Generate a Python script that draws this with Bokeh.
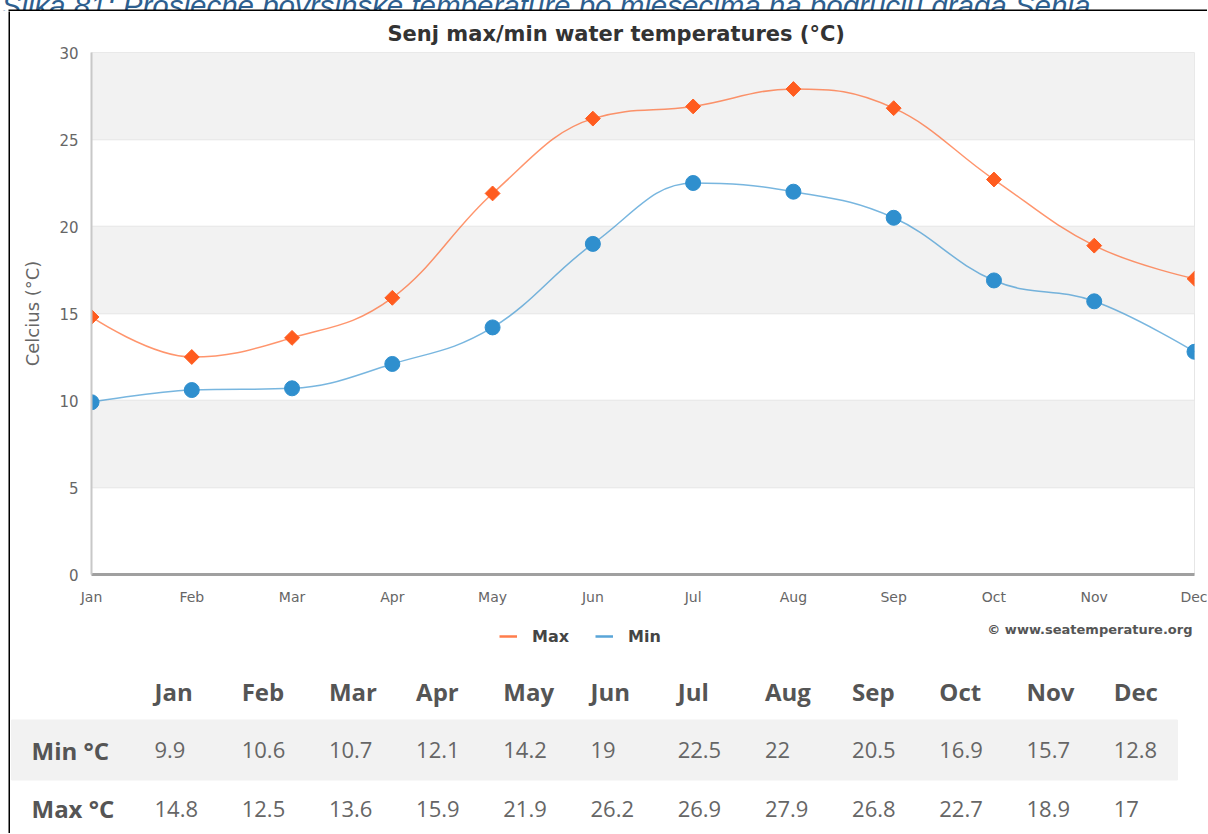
from bokeh.plotting import figure
from bokeh.models import (Range1d, FixedTicker, BoxAnnotation, Legend, LegendItem,
                          ColumnDataSource)
from bokeh.layouts import column, row
from bokeh.embed import file_html
from bokeh.resources import INLINE
from bokeh.core.properties import value

# ---------------- data ----------------
months = ["Jan", "Feb", "Mar", "Apr", "May", "Jun", "Jul", "Aug", "Sep", "Oct", "Nov", "Dec"]
min_vals = [9.9, 10.6, 10.7, 12.1, 14.2, 19.0, 22.5, 22.0, 20.5, 16.9, 15.7, 12.8]
max_vals = [14.8, 12.5, 13.6, 15.9, 21.9, 26.2, 26.9, 27.9, 26.8, 22.7, 18.9, 17.0]
y_ticks = [0, 5, 10, 15, 20, 25, 30]
row_labels = ["Min °C", "Max °C"]
series_names = ["Max", "Min"]

chart_title = "Senj max/min water temperatures (°C)"
y_label = "Celcius (°C)"
credits = "© www.seatemperature.org"
caption = "Slika 81: Prosječne površinske temperature po mjesecima na području grada Senja"

ORANGE = "#ff5c1f"
BLUE = "#2f8fce"
FONT = "DejaVu Sans"
TFONT = "Open Sans"
NAN = float("nan")


def spline_segments(xs, ys, smoothing=1.5):
    """Highcharts-like spline: bezier control points for each segment."""
    n = len(xs)
    left = [None] * n
    right = [None] * n
    d = smoothing + 1
    for i in range(1, n - 1):
        lx, ly = xs[i - 1], ys[i - 1]
        px, py = xs[i], ys[i]
        nx, ny = xs[i + 1], ys[i + 1]
        lcx = (smoothing * px + lx) / d
        lcy = (smoothing * py + ly) / d
        rcx = (smoothing * px + nx) / d
        rcy = (smoothing * py + ny) / d
        if rcx != lcx:
            corr = ((rcy - lcy) * (rcx - px)) / (rcx - lcx) + py - rcy
            lcy += corr
            rcy += corr
        if lcy > ly and lcy > py:
            lcy = max(ly, py); rcy = 2 * py - lcy
        elif lcy < ly and lcy < py:
            lcy = min(ly, py); rcy = 2 * py - lcy
        if rcy > ny and rcy > py:
            rcy = max(ny, py); lcy = 2 * py - rcy
        elif rcy < ny and rcy < py:
            rcy = min(ny, py); lcy = 2 * py - rcy
        left[i] = (lcx, lcy)
        right[i] = (rcx, rcy)
    seg = dict(x0=[], y0=[], x1=[], y1=[], cx0=[], cy0=[], cx1=[], cy1=[])
    for i in range(n - 1):
        c0 = right[i] or (xs[i], ys[i])
        c1 = left[i + 1] or (xs[i + 1], ys[i + 1])
        seg["x0"].append(xs[i]); seg["y0"].append(ys[i])
        seg["x1"].append(xs[i + 1]); seg["y1"].append(ys[i + 1])
        seg["cx0"].append(c0[0]); seg["cy0"].append(c0[1])
        seg["cx1"].append(c1[0]); seg["cy1"].append(c1[1])
    return ColumnDataSource(seg)


def bare(fig):
    fig.axis.visible = False
    fig.grid.visible = False
    fig.outline_line_color = None
    fig.frame_align = False
    return fig


idx = list(range(len(months)))

# ---------------- caption (clipped at top, as in the reference) + top frame line ----------------
cap = bare(figure(width=1208, height=12, x_range=Range1d(0, 1208), y_range=Range1d(12, 0),
                  min_border=0, toolbar_location=None, output_backend="svg"))
cap.text(x=[2], y=[6], text=[caption], text_font=value("Liberation Sans"),
         text_font_style="italic", text_font_size="29.5px", text_color="#2e5f8f",
         text_baseline="alphabetic", text_align="left")
cap.add_layout(BoxAnnotation(left=9, right=1208, bottom=12, top=10,
                             fill_color="#000000", fill_alpha=1, line_color=None))

# ---------------- black frame line (left) ----------------
strip = bare(figure(width=11, height=822, min_border_left=9, min_border_right=0,
                    min_border_top=0, min_border_bottom=0, toolbar_location=None,
                    output_backend="svg", background_fill_color="#000000",
                    border_fill_color="#ffffff"))

# ---------------- chart ----------------
p = figure(width=1197, height=603, x_range=Range1d(0, 11), y_range=Range1d(0, 30),
           toolbar_location=None, output_backend="svg",
           min_border_left=81, min_border_right=13, min_border_top=41, min_border_bottom=40)
p.frame_align = False
p.title.text = chart_title
p.title.align = "left"
p.title.offset = 296
p.title.standoff = 14
p.title.text_font = FONT
p.title.text_font_size = "21px"
p.title.text_font_style = "bold"
p.title.text_color = "#333333"
p.outline_line_color = "#e6e6e6"

for lo in y_ticks[1::2]:
    p.add_layout(BoxAnnotation(bottom=lo, top=lo + 5, fill_color="#f2f2f2",
                               fill_alpha=1, line_color=None, level="underlay"))

p.xgrid.visible = False
p.ygrid.grid_line_color = "#e3e3e3"
p.ygrid.grid_line_width = 1.5

p.yaxis.ticker = FixedTicker(ticks=y_ticks)
p.xaxis.ticker = FixedTicker(ticks=idx)
p.xaxis.major_label_overrides = {i: m for i, m in zip(idx, months)}
for ax in (p.xaxis[0], p.yaxis[0]):
    ax.major_tick_line_color = None
    ax.minor_tick_line_color = None
    ax.major_tick_out = 0
    ax.major_tick_in = 0
    ax.minor_tick_out = 0
    ax.major_label_text_font = FONT
    ax.major_label_text_color = "#666666"
p.xaxis.major_label_text_font_size = "14px"
p.xaxis.major_label_standoff = 14
p.xaxis.axis_line_color = "#a0a0a0"
p.xaxis.axis_line_width = 3
p.yaxis.major_label_text_font_size = "15px"
p.yaxis.major_label_standoff = 13
p.yaxis.axis_line_color = "#c8c8c8"
p.yaxis.axis_line_width = 2
p.yaxis.axis_label = y_label
p.yaxis.axis_label_text_font = FONT
p.yaxis.axis_label_text_font_size = "18px"
p.yaxis.axis_label_text_font_style = "normal"
p.yaxis.axis_label_text_color = "#666666"
p.yaxis.axis_label_standoff = 13

max_src = spline_segments(idx, max_vals)
min_src = spline_segments(idx, min_vals)
p.bezier(x0="x0", y0="y0", x1="x1", y1="y1", cx0="cx0", cy0="cy0",
         cx1="cx1", cy1="cy1", source=max_src, line_color=ORANGE,
         line_width=1.5, line_alpha=0.65)
p.bezier(x0="x0", y0="y0", x1="x1", y1="y1", cx0="cx0", cy0="cy0",
         cx1="cx1", cy1="cy1", source=min_src, line_color=BLUE,
         line_width=1.5, line_alpha=0.65)
p.scatter(idx, max_vals, marker="square", angle=0.785398, size=10.5, color=ORANGE)
p.scatter(idx, min_vals, marker="circle", size=15, color=BLUE)

# ---------------- legend + credits + table ----------------
t = bare(figure(width=1197, height=219, x_range=Range1d(-1.6514, 12.076),
                y_range=Range1d(2.427, -1.316), min_border=0, toolbar_location=None,
                output_backend="svg"))

# legend keys (line samples only, like the reference legend); NaN = nothing drawn in the frame
k_max = t.line(x=[NAN], y=[NAN], line_color=ORANGE, line_width=2.5, line_alpha=0.8)
k_min = t.line(x=[NAN], y=[NAN], line_color=BLUE, line_width=2.5, line_alpha=0.8)
legend = Legend(items=[LegendItem(label=series_names[0], renderers=[k_max]),
                       LegendItem(label=series_names[1], renderers=[k_min])],
                orientation="horizontal", location=(489, 187),
                padding=0, margin=0, spacing=26, glyph_width=18, glyph_height=20,
                label_standoff=15, border_line_color=None, background_fill_alpha=0,
                label_text_font=FONT, label_text_font_size="16px",
                label_text_font_style="bold", label_text_color="#444444")
t.add_layout(legend, "center")

t.text(x=[11.904], y=[-1.06], text=[credits], text_align="right",
       text_baseline="middle", text_font=value(FONT), text_font_size="13px",
       text_font_style="bold", text_color="#555555")

t.hbar(y=[1], left=[-1.640], right=[11.732], height=1.026, color="#f2f2f2")

t.text(x=idx, y=[0] * len(idx), text=months, text_font=value(TFONT),
       text_font_style="bold", text_font_size="24px", text_color="#555555",
       text_align="left", text_baseline="middle")
t.text(x=[-1.4106, -1.4106], y=[1, 2], text=row_labels, text_font=value(TFONT),
       text_font_style="bold", text_font_size="24px", text_color="#555555",
       text_align="left", text_baseline="middle")
t.text(x=idx, y=[1] * len(idx), text=[f"{v:g}" for v in min_vals],
       text_font=value(TFONT), text_font_size="22px", text_color="#666666",
       text_align="left", text_baseline="middle")
t.text(x=idx, y=[2] * len(idx), text=[f"{v:g}" for v in max_vals],
       text_font=value(TFONT), text_font_size="22px", text_color="#666666",
       text_align="left", text_baseline="middle")

body = row(strip, column(p, t, spacing=0), spacing=0)
layout = column(cap, body, spacing=0, margin=(-1, -1, -1, -1))

open("out.html", "w").write(file_html(layout, INLINE))
